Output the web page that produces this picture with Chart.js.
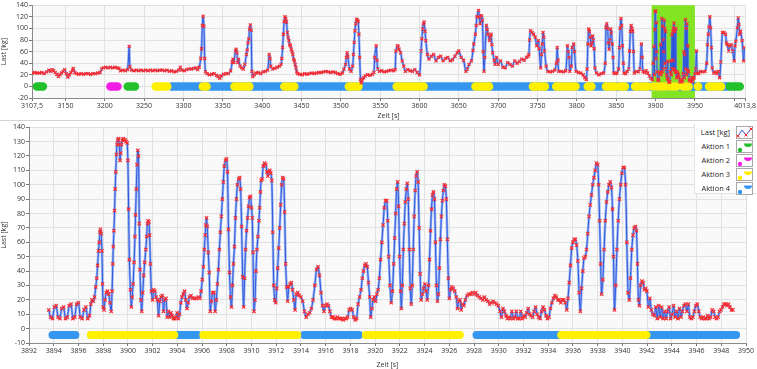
<!DOCTYPE html>
<html><head><meta charset="utf-8">
<script src="https://cdn.jsdelivr.net/npm/chart.js@4.4.1/dist/chart.umd.min.js"></script>
<style>
html,body{margin:0;padding:0;background:#fff;}
#wrap{position:relative;width:757px;height:369px;overflow:hidden;font-family:'Open Sans',sans-serif;}
#wrap>canvas{position:absolute;left:0;}
#sep{position:absolute;left:0;top:120px;width:757px;height:1px;background:#d2d2d2;}
#legend{position:absolute;left:694px;top:124px;width:63px;height:70px;background:#fff;border-left:1px solid #e2e2e2;border-bottom:1px solid #e2e2e2;box-sizing:border-box;z-index:5;}
.row{position:absolute;left:0;width:63px;height:14px;}
.row span{position:absolute;right:28px;top:0;line-height:14px;font-size:7.5px;color:#222;white-space:nowrap;}
.row canvas{position:absolute;left:41px;top:1px;}
</style></head><body>
<div id="wrap">
<canvas id="overview" width="757" height="120" style="top:0"></canvas>
<div id="sep"></div>
<canvas id="detail" width="757" height="247" style="top:122px"></canvas>
<div id="legend"></div>
</div>
<script>
// ---------------- data ----------------
const seriesNames = ['Last [kg]', 'Aktion 1', 'Aktion 2', 'Aktion 3', 'Aktion 4'];

const overviewXTicks = [3107.5,3150,3200,3250,3300,3350,3400,3450,3500,3550,3600,3650,3700,3750,3800,3850,3900,3950,4000,4013.8];
const overviewXLabels = ['3107,5','3150','3200','3250','3300','3350','3400','3450','3500','3550','3600','3650','3700','3750','3800','3850','3900','3950','','4013,8'];
const overviewZoomRange = [3895, 3950];

const overviewLoad = [
[3108,23],[3111,24],[3114,23],[3117,23],[3120,24],[3123,22],[3126,25],[3129,28],[3131,26],[3133,29],[3135,27],[3137,24],[3139,21],[3141,17],[3143,20],[3145,23],[3147,26],[3149,29],[3151,22],[3153,16],[3155,20],[3157,24],[3159,28],[3160,31],[3162,24],[3164,22],[3167,21],[3170,22],[3173,21],[3176,22],[3179,22],[3182,21],[3185,22],[3188,22],[3191,23],[3194,24],[3196,30],[3198,32],[3201,33],[3204,32],[3207,33],[3210,32],[3213,33],[3216,32],[3218,31],[3220,27],[3223,28],[3226,27],[3229,29],[3231,69],[3232,34],[3234,28],[3237,27],[3240,28],[3243,27],[3246,28],[3249,27],[3252,28],[3255,27],[3258,28],[3261,27],[3264,28],[3267,27],[3270,28],[3273,28],[3276,27],[3279,28],[3282,26],[3285,27],[3288,25],[3291,26],[3294,28],[3296,33],[3298,28],[3301,27],[3304,29],[3307,30],[3310,30],[3313,31],[3316,32],[3318,29],[3320,33],[3322,48],[3323,65],[3324,105],[3325,121],[3326,104],[3327,48],[3328,25],[3330,22],[3333,20],[3336,21],[3339,22],[3342,19],[3344,17],[3346,14],[3348,18],[3351,21],[3354,22],[3357,22],[3360,27],[3362,42],[3363,47],[3364,41],[3366,61],[3367,64],[3368,58],[3369,41],[3370,47],[3372,35],[3374,32],[3376,30],[3378,38],[3380,55],[3381,63],[3382,75],[3383,82],[3384,99],[3385,106],[3386,97],[3387,26],[3388,17],[3390,20],[3392,23],[3395,24],[3398,22],[3401,25],[3404,26],[3407,28],[3409,55],[3410,48],[3411,35],[3413,30],[3416,31],[3419,33],[3422,35],[3424,38],[3425,48],[3426,67],[3427,90],[3428,112],[3429,120],[3430,117],[3431,111],[3432,93],[3433,85],[3434,79],[3435,72],[3436,70],[3437,64],[3438,60],[3439,55],[3440,47],[3441,44],[3442,38],[3443,32],[3444,25],[3445,22],[3448,21],[3451,20],[3454,22],[3457,21],[3460,22],[3463,23],[3466,22],[3469,23],[3472,24],[3475,24],[3478,25],[3481,26],[3484,25],[3487,24],[3490,25],[3493,24],[3496,22],[3499,21],[3502,23],[3504,30],[3506,38],[3507,50],[3508,58],[3509,52],[3511,30],[3513,26],[3515,35],[3516,55],[3517,76],[3518,96],[3519,108],[3520,116],[3521,114],[3522,112],[3523,90],[3524,50],[3525,12],[3526,6],[3527,10],[3529,15],[3531,18],[3534,20],[3537,19],[3540,21],[3542,24],[3543,50],[3545,70],[3546,45],[3547,30],[3549,26],[3552,27],[3555,25],[3558,26],[3561,27],[3564,28],[3567,27],[3569,29],[3570,61],[3572,70],[3573,68],[3574,64],[3576,58],[3578,44],[3580,35],[3582,26],[3585,29],[3588,27],[3591,26],[3594,29],[3597,24],[3600,20],[3602,61],[3603,82],[3604,99],[3605,108],[3606,111],[3607,95],[3608,79],[3610,55],[3612,47],[3615,52],[3618,55],[3621,44],[3624,50],[3627,52],[3630,44],[3633,48],[3636,50],[3639,44],[3642,46],[3645,52],[3648,58],[3650,61],[3653,50],[3656,45],[3659,26],[3661,30],[3663,38],[3666,44],[3668,62],[3669,73],[3671,90],[3672,105],[3673,120],[3675,131],[3676,120],[3677,108],[3679,122],[3680,114],[3681,60],[3682,26],[3683,50],[3685,105],[3686,98],[3687,90],[3689,79],[3690,85],[3691,90],[3692,72],[3693,58],[3695,45],[3696,38],[3698,50],[3700,38],[3703,44],[3706,33],[3709,32],[3712,41],[3715,38],[3718,35],[3721,44],[3724,40],[3727,43],[3730,47],[3733,45],[3736,50],[3738,52],[3739,55],[3740,80],[3741,96],[3743,93],[3745,90],[3747,85],[3749,70],[3751,79],[3752,65],[3754,32],[3755,55],[3756,73],[3757,93],[3758,85],[3759,61],[3761,35],[3763,26],[3766,25],[3769,26],[3772,28],[3774,40],[3775,67],[3776,45],[3777,26],[3780,26],[3783,25],[3786,27],[3788,70],[3789,60],[3790,50],[3791,26],[3793,35],[3794,67],[3796,73],[3797,60],[3799,26],[3802,24],[3805,23],[3808,20],[3810,15],[3812,12],[3813,30],[3814,73],[3815,99],[3816,95],[3817,85],[3818,70],[3819,75],[3820,87],[3821,80],[3822,65],[3823,32],[3825,23],[3828,20],[3831,22],[3834,23],[3836,40],[3837,102],[3838,108],[3839,100],[3840,75],[3841,64],[3842,80],[3843,99],[3844,92],[3845,73],[3846,50],[3847,23],[3849,22],[3851,23],[3853,30],[3854,67],[3855,100],[3856,117],[3857,105],[3858,70],[3859,40],[3860,23],[3862,22],[3864,26],[3866,30],[3867,61],[3868,95],[3869,105],[3870,100],[3871,95],[3872,60],[3873,23],[3875,26],[3878,25],[3880,30],[3882,73],[3883,50],[3884,26],[3886,24],[3888,27],[3890,23],[3892,18],[3894,14],[3896,12],[3897,40],[3898,69],[3898.5,20],[3899,98],[3899.5,129],[3900,130],[3900.5,48],[3901,110],[3901.5,60],[3902,25],[3903,12],[3904,10],[3905,22],[3906,25],[3906.5,72],[3907,20],[3908,117],[3908.5,25],[3909,104],[3909.5,30],[3910,80],[3910.5,60],[3911,114],[3911.5,100],[3912,40],[3912.5,95],[3913,30],[3914,20],[3915,14],[3915.5,43],[3916,12],[3917,7],[3918,8],[3919,25],[3919.3,44],[3920,20],[3921,89],[3921.5,30],[3922,95],[3922.3,45],[3922.7,101],[3923,30],[3923.4,109],[3924,28],[3924.7,95],[3925.2,25],[3925.7,100],[3926.2,24],[3927,15],[3928,25],[3929,20],[3930,16],[3931,8],[3932,10],[3933,12],[3934,8],[3935,22],[3936,60],[3936.5,15],[3937,55],[3938,115],[3938.5,30],[3939,100],[3939.5,20],[3940,108],[3940.5,28],[3941,70],[3941.5,25],[3942,26],[3943,10],[3944,12],[3945,9],[3946,15],[3947,8],[3948,14],[3949,15],
[3950,22],[3951,30],[3952,61],[3953,23],[3955,22],[3957,26],[3960,25],[3963,26],[3965,40],[3966,72],[3967,90],[3968,103],[3969,120],[3970,101],[3971,67],[3972,32],[3974,23],[3976,25],[3978,22],[3980,26],[3981.5,15],[3983,42],[3985,93],[3987,93],[3989,90],[3990,75],[3991,72],[3993,61],[3994,70],[3996,72],[3998,61],[4000,44],[4001,70],[4002,78],[4004,101],[4005,118],[4006,107],[4007,90],[4008,95],[4010,79],[4012,44],[4013,67]
];

const overviewAktion1 = [[3113.8,3121.4],[3229.2,3238.4],[3994.5,4007]];
const overviewAktion2 = [[3207.2,3216.1]];
const overviewAktion3 = [[3264.7,3279.5],[3324.6,3329.3],[3364.8,3383.8],[3428.2,3440.9],[3510.2,3522.4],[3571,3605.2],[3671.1,3688.4],[3744.1,3759.3],[3773.8,3798.3],[3813.8,3818.5],[3837,3849],[3855,3861],[3874,3878],[3883,3890],[3897,3903.75],[3906.1,3913.7],[3919.25,3926.85],[3935.05,3941.95],[3954,3955],[3968,3983.4]];
const overviewAktion4 = [[3285,3992]];

const detailLoad = [
[3893.6,13],[3893.75,8],[3893.9,7],[3894.05,15],[3894.2,16],[3894.35,8],[3894.5,7],[3894.65,14],[3894.8,15],[3894.95,7],[3895.1,8],[3895.25,16],[3895.4,17],[3895.55,7],[3895.7,8],[3895.85,17],[3896.0,18],[3896.15,8],[3896.3,7],[3896.45,13],[3896.6,15],[3896.75,7],[3896.9,9],[3897.0,17],[3897.1,20],[3897.2,19],[3897.3,22],[3897.4,29],[3897.48,35],[3897.55,44],[3897.62,54],[3897.68,60],[3897.73,67],[3897.78,69],[3897.84,66],[3897.9,54],[3897.95,31],[3898.0,15],[3898.07,13],[3898.15,20],[3898.25,25],[3898.35,26],[3898.45,24],[3898.55,18],[3898.65,12],[3898.72,26],[3898.78,45],[3898.82,57],[3898.87,68],[3898.92,82],[3898.97,97],[3899.02,109],[3899.07,121],[3899.12,128],[3899.18,131],[3899.24,132],[3899.3,128],[3899.36,117],[3899.42,122],[3899.48,128],[3899.54,131],[3899.62,132],[3899.7,131],[3899.78,131],[3899.86,130],[3899.94,129],[3900.0,117],[3900.06,83],[3900.12,48],[3900.2,27],[3900.28,15],[3900.35,22],[3900.42,31],[3900.5,46],[3900.57,64],[3900.62,79],[3900.68,97],[3900.74,114],[3900.8,124],[3900.86,120],[3900.92,73],[3900.98,41],[3901.05,20],[3901.12,12],[3901.2,25],[3901.28,37],[3901.36,46],[3901.45,55],[3901.52,64],[3901.58,73],[3901.64,75],[3901.7,74],[3901.76,65],[3901.82,45],[3901.9,26],[3902.0,20],[3902.08,27],[3902.18,26],[3902.28,22],[3902.38,20],[3902.48,9],[3902.58,19],[3902.68,22],[3902.78,23],[3902.88,12],[3902.98,20],[3903.08,21],[3903.18,8],[3903.28,12],[3903.38,8],[3903.48,11],[3903.58,9],[3903.68,7],[3903.78,7],[3903.88,8],[3903.98,11],[3904.08,7],[3904.18,10],[3904.28,18],[3904.38,22],[3904.48,24],[3904.58,26],[3904.68,20],[3904.78,14],[3904.88,18],[3904.98,22],[3905.1,23],[3905.25,21],[3905.4,21],[3905.55,21],[3905.7,22],[3905.82,21],[3905.92,26],[3906.02,34],[3906.1,43],[3906.18,55],[3906.25,65],[3906.3,72],[3906.36,77],[3906.42,71],[3906.5,53],[3906.58,39],[3906.66,12],[3906.76,19],[3906.86,25],[3906.96,25],[3907.06,12],[3907.16,20],[3907.24,31],[3907.32,41],[3907.4,55],[3907.48,67],[3907.56,78],[3907.64,90],[3907.72,102],[3907.8,113],[3907.9,117],[3907.98,118],[3908.06,109],[3908.14,69],[3908.22,39],[3908.3,22],[3908.38,15],[3908.46,30],[3908.54,45],[3908.62,57],[3908.7,77],[3908.78,90],[3908.86,100],[3908.96,104],[3909.04,105],[3909.12,97],[3909.2,71],[3909.28,36],[3909.36,15],[3909.44,35],[3909.52,55],[3909.6,68],[3909.68,77],[3909.76,85],[3909.84,91],[3909.92,92],[3910.0,84],[3910.06,77],[3910.12,53],[3910.2,12],[3910.28,20],[3910.36,40],[3910.44,55],[3910.52,64],[3910.6,75],[3910.66,84],[3910.72,95],[3910.78,103],[3910.86,104],[3910.95,113],[3911.05,115],[3911.15,114],[3911.25,109],[3911.32,106],[3911.4,109],[3911.48,110],[3911.56,108],[3911.64,103],[3911.72,67],[3911.8,30],[3911.88,20],[3911.96,18],[3912.04,28],[3912.12,42],[3912.2,56],[3912.28,70],[3912.36,86],[3912.44,100],[3912.52,105],[3912.6,104],[3912.68,81],[3912.76,45],[3912.84,29],[3912.92,19],[3913.02,29],[3913.12,31],[3913.22,32],[3913.32,27],[3913.42,20],[3913.52,13],[3913.62,24],[3913.74,25],[3913.86,23],[3914.0,22],[3914.14,19],[3914.28,12],[3914.42,8],[3914.56,10],[3914.7,11],[3914.84,14],[3914.98,20],[3915.12,30],[3915.26,41],[3915.38,43],[3915.5,37],[3915.62,25],[3915.74,16],[3915.86,12],[3915.98,16],[3916.1,17],[3916.22,16],[3916.34,12],[3916.46,8],[3916.58,8],[3916.7,7],[3916.82,7],[3916.94,8],[3917.06,7],[3917.18,7],[3917.3,7],[3917.42,6],[3917.54,7],[3917.66,7],[3917.78,8],[3917.9,13],[3918.02,14],[3918.14,13],[3918.26,8],[3918.38,6],[3918.5,7],[3918.62,17],[3918.74,22],[3918.86,27],[3918.96,35],[3919.06,40],[3919.16,44],[3919.26,45],[3919.36,43],[3919.46,32],[3919.56,22],[3919.64,8],[3919.74,14],[3919.84,20],[3919.94,22],[3920.04,19],[3920.14,24],[3920.24,27],[3920.34,35],[3920.44,48],[3920.54,60],[3920.64,72],[3920.74,84],[3920.84,89],[3920.94,89],[3921.02,75],[3921.1,50],[3921.2,30],[3921.3,18],[3921.4,26],[3921.5,45],[3921.58,63],[3921.66,80],[3921.74,97],[3921.82,102],[3921.9,85],[3921.98,50],[3922.06,26],[3922.12,14],[3922.2,30],[3922.28,55],[3922.36,73],[3922.44,88],[3922.52,97],[3922.6,101],[3922.68,90],[3922.76,55],[3922.84,28],[3922.92,17],[3923.0,30],[3923.08,55],[3923.16,78],[3923.24,96],[3923.32,106],[3923.4,109],[3923.48,102],[3923.56,70],[3923.64,38],[3923.72,20],[3923.82,24],[3923.92,28],[3924.02,31],[3924.12,26],[3924.22,20],[3924.32,30],[3924.4,48],[3924.48,68],[3924.56,83],[3924.64,93],[3924.72,95],[3924.8,90],[3924.88,60],[3924.96,30],[3925.04,19],[3925.12,24],[3925.2,42],[3925.28,62],[3925.36,78],[3925.44,89],[3925.52,96],[3925.6,100],[3925.68,99],[3925.76,90],[3925.84,62],[3925.92,35],[3926.0,21],[3926.1,27],[3926.2,29],[3926.32,28],[3926.44,26],[3926.56,22],[3926.66,14],[3926.76,19],[3926.86,20],[3926.96,13],[3927.06,17],[3927.18,16],[3927.3,20],[3927.44,23],[3927.58,24],[3927.72,24],[3927.86,25],[3928.0,24],[3928.14,25],[3928.28,23],[3928.42,22],[3928.56,21],[3928.7,20],[3928.84,22],[3928.98,20],[3929.12,19],[3929.26,17],[3929.4,18],[3929.54,19],[3929.68,18],[3929.82,17],[3929.96,16],[3930.1,12],[3930.22,8],[3930.34,14],[3930.46,12],[3930.58,9],[3930.7,7],[3930.82,8],[3930.94,7],[3931.06,12],[3931.18,7],[3931.3,8],[3931.42,12],[3931.54,7],[3931.66,7],[3931.78,12],[3931.9,7],[3932.02,9],[3932.14,8],[3932.26,11],[3932.38,14],[3932.5,10],[3932.62,9],[3932.74,8],[3932.86,12],[3932.98,15],[3933.1,10],[3933.22,8],[3933.34,7],[3933.46,12],[3933.58,15],[3933.7,13],[3933.82,9],[3933.94,7],[3934.06,8],[3934.18,14],[3934.3,18],[3934.42,21],[3934.54,23],[3934.66,22],[3934.78,20],[3934.9,20],[3935.02,18],[3935.14,20],[3935.26,20],[3935.38,18],[3935.5,13],[3935.6,21],[3935.7,32],[3935.8,44],[3935.9,56],[3936.0,60],[3936.1,62],[3936.2,62],[3936.3,58],[3936.4,47],[3936.5,25],[3936.6,12],[3936.7,28],[3936.8,40],[3936.9,49],[3937.0,50],[3937.1,55],[3937.2,66],[3937.3,78],[3937.4,86],[3937.5,93],[3937.6,100],[3937.7,105],[3937.8,110],[3937.9,115],[3938.0,114],[3938.08,100],[3938.16,75],[3938.24,45],[3938.32,24],[3938.42,34],[3938.52,55],[3938.62,75],[3938.72,88],[3938.82,95],[3938.92,100],[3939.02,102],[3939.12,98],[3939.2,83],[3939.28,50],[3939.36,13],[3939.46,30],[3939.56,55],[3939.66,75],[3939.76,90],[3939.86,100],[3939.96,108],[3940.06,112],[3940.16,112],[3940.26,100],[3940.36,60],[3940.46,25],[3940.56,20],[3940.66,35],[3940.76,55],[3940.86,65],[3940.96,70],[3941.06,71],[3941.14,68],[3941.22,45],[3941.3,20],[3941.38,16],[3941.48,30],[3941.58,33],[3941.68,32],[3941.78,27],[3941.88,28],[3941.98,26],[3942.1,15],[3942.22,21],[3942.34,13],[3942.46,10],[3942.58,9],[3942.7,15],[3942.82,7],[3942.94,16],[3943.06,8],[3943.18,15],[3943.3,7],[3943.42,12],[3943.54,7],[3943.66,12],[3943.78,15],[3943.9,7],[3944.02,10],[3944.14,16],[3944.26,8],[3944.38,12],[3944.5,7],[3944.62,14],[3944.74,8],[3944.86,12],[3944.98,16],[3945.1,17],[3945.22,12],[3945.34,17],[3945.46,8],[3945.58,7],[3945.7,8],[3945.82,12],[3945.94,16],[3946.06,17],[3946.18,12],[3946.3,8],[3946.42,7],[3946.54,8],[3946.66,7],[3946.78,7],[3946.9,9],[3947.02,7],[3947.14,8],[3947.26,13],[3947.38,12],[3947.5,8],[3947.62,7],[3947.74,8],[3947.86,12],[3947.98,13],[3948.1,15],[3948.22,17],[3948.34,17],[3948.46,16],[3948.58,17],[3948.7,15],[3948.82,13],[3948.94,13]
];
const detailAktion3 = [[3897,3903.75],[3906.1,3913.7],[3919.25,3926.85],[3935.05,3941.95]];
const detailAktion4 = [[3893.9,3895.75],[3904,3905.65],[3914.25,3918.7],[3928.2,3934.8],[3942.2,3949.2]];

// ---------------- styling ----------------
const COLORS = {a1:'#22c02a', a2:'#f21ee6', a3:'#fff000', a4:'#3596ef', line:'#2d55dc', halo:'rgba(120,158,240,0.75)', mark:'#ff2a2a'};
const OVERVIEW_BAR_LEVEL = 0;
const DETAIL_BAR_LEVEL = -4.4;

Chart.defaults.font.family = "'Open Sans', 'Noto Sans', sans-serif";
Chart.defaults.font.size = 7;
Chart.defaults.color = '#333';

function toXY(pairs){ return pairs.map(p => ({x:p[0], y:p[1]})); }
function barData(ranges, level){
  const out = [];
  ranges.forEach(r => { out.push({x:r[0], y:level}); out.push({x:r[1], y:level}); out.push({x:r[1], y:null}); });
  return out;
}
function barDataset(label, ranges, level, color, width){
  return {label, data: barData(ranges, level), borderColor: color, backgroundColor: color, borderWidth: width,
    borderCapStyle:'round', pointRadius:0, spanGaps:false, tension:0};
}
function loadDatasets(pairs, r){
  const d = toXY(pairs);
  return [
    {label:seriesNames[0], data:d, borderColor:COLORS.line, borderWidth:1, tension:0.25, pointStyle:'crossRot', pointRadius:r, pointBorderColor:COLORS.mark, pointBorderWidth:1.1, pointBackgroundColor:'rgba(255,120,120,0.3)'},
    {label:'halo', data:d, borderColor:COLORS.halo, borderWidth:2.6, tension:0.25, pointRadius:0}
  ];
}

const bgPlugin = {
  id:'bg',
  beforeDraw(chart){
    const a = chart.chartArea, ctx = chart.ctx;
    ctx.save();
    ctx.fillStyle = '#f9f9f9';
    ctx.fillRect(a.left, a.top, a.right - a.left, a.bottom - a.top);
    ctx.restore();
  },
  beforeDatasetsDraw(chart, args, opts){
    if (!opts || !opts.range) return;
    const a = chart.chartArea, ctx = chart.ctx, xs = chart.scales.x;
    const x0 = xs.getPixelForValue(opts.range[0]), x1 = xs.getPixelForValue(opts.range[1]);
    ctx.save();
    ctx.fillStyle = 'rgba(122,226,18,0.93)';
    ctx.fillRect(x0, a.top, x1 - x0, a.bottom - a.top);
    ctx.restore();
  }
};

function axisCommon(){
  return {
    grid:{color:'#e1e1e1', tickColor:'#777', tickLength:3, lineWidth:1},
    border:{color:'#8a8a8a', width:1},
  };
}

// ---------------- overview chart ----------------
new Chart(document.getElementById('overview'), {
  type:'line',
  data:{datasets:[
    ...loadDatasets(overviewLoad, 2.2),
    barDataset(seriesNames[1], overviewAktion1, OVERVIEW_BAR_LEVEL, COLORS.a1, 8.5),
    barDataset(seriesNames[2], overviewAktion2, OVERVIEW_BAR_LEVEL, COLORS.a2, 8.5),
    barDataset(seriesNames[3], overviewAktion3, OVERVIEW_BAR_LEVEL, COLORS.a3, 8.5),
    barDataset(seriesNames[4], overviewAktion4, OVERVIEW_BAR_LEVEL, COLORS.a4, 8.5)
  ]},
  options:{
    responsive:false, animation:false, devicePixelRatio:1,
    layout:{padding:{top:5, right:10, left:0, bottom:0}},
    plugins:{legend:{display:false}, tooltip:{enabled:false}, bg:{range:overviewZoomRange}},
    scales:{
      x:{type:'linear', min:3107.5, max:4013.8, ...axisCommon(),
        afterBuildTicks: s => { s.ticks = overviewXTicks.map(v => ({value:v})); },
        ticks:{autoSkip:false, maxRotation:0, padding:1, callback:(v) => { const i = overviewXTicks.indexOf(v); return i >= 0 ? overviewXLabels[i] : ''; }},
        title:{display:true, text:'Zeit [s]', padding:{top:1, bottom:0}},
        afterFit: s => { s.height = 22; }
      },
      y:{min:-20, max:140, ...axisCommon(),
        ticks:{stepSize:20, padding:1, callback:v => String(v)},
        title:{display:true, text:'Last [kg]', padding:{top:0, bottom:1}},
        afterFit: s => { s.width = 32; }
      }
    }
  },
  plugins:[bgPlugin]
});

// ---------------- detail chart ----------------
new Chart(document.getElementById('detail'), {
  type:'line',
  data:{datasets:[
    ...loadDatasets(detailLoad, 2.4),
    barDataset(seriesNames[3], detailAktion3, DETAIL_BAR_LEVEL, COLORS.a3, 8),
    barDataset(seriesNames[4], detailAktion4, DETAIL_BAR_LEVEL, COLORS.a4, 8)
  ]},
  options:{
    responsive:false, animation:false, devicePixelRatio:1,
    layout:{padding:{top:5, right:11, left:0, bottom:0}},
    plugins:{legend:{display:false}, tooltip:{enabled:false}, bg:{}},
    scales:{
      x:{type:'linear', min:3892, max:3950, ...axisCommon(),
        ticks:{stepSize:2, autoSkip:false, maxRotation:0, padding:1, callback:v => String(v)},
        title:{display:true, text:'Zeit [s]', padding:{top:2, bottom:0}},
        afterFit: s => { s.height = 26; }
      },
      y:{min:-10, max:140, ...axisCommon(),
        ticks:{stepSize:10, padding:1, callback:v => String(v)},
        title:{display:true, text:'Last [kg]', padding:{top:0, bottom:1}},
        afterFit: s => { s.width = 29; }
      }
    }
  },
  plugins:[bgPlugin]
});

// ---------------- legend ----------------
function drawIcon(cv, kind, color){
  const c = cv.getContext('2d');
  c.fillStyle = '#fff'; c.fillRect(0,0,17,13);
  c.strokeStyle = '#a8a8a8'; c.lineWidth = 1; c.strokeRect(0.5,0.5,16,12);
  if (kind === 'line'){
    c.strokeStyle = COLORS.line; c.lineWidth = 1;
    c.beginPath(); c.moveTo(2,10); c.lineTo(6,4); c.lineTo(10,9); c.lineTo(15,3); c.stroke();
    c.strokeStyle = COLORS.mark;
    [[2,10],[10,9],[15,3]].forEach(p => { c.beginPath(); c.moveTo(p[0]-1.5,p[1]-1.5); c.lineTo(p[0]+1.5,p[1]+1.5); c.moveTo(p[0]+1.5,p[1]-1.5); c.lineTo(p[0]-1.5,p[1]+1.5); c.stroke(); });
  } else {
    c.fillStyle = color;
    c.beginPath(); c.arc(4,10,2.2,0,Math.PI*2); c.fill();
    c.beginPath(); c.ellipse(12,3.5,4,3.5,0,0,Math.PI); c.closePath(); c.fill();
  }
}
const legendColors = [null, COLORS.a1, COLORS.a2, COLORS.a3, COLORS.a4];
const lg = document.getElementById('legend');
seriesNames.forEach((name, i) => {
  const row = document.createElement('div'); row.className = 'row'; row.style.top = (1 + i*14) + 'px';
  const sp = document.createElement('span'); sp.textContent = name; row.appendChild(sp);
  const cv = document.createElement('canvas'); cv.width = 17; cv.height = 13; row.appendChild(cv);
  drawIcon(cv, i === 0 ? 'line' : 'act', legendColors[i]);
  lg.appendChild(row);
});
</script>
</body></html>
